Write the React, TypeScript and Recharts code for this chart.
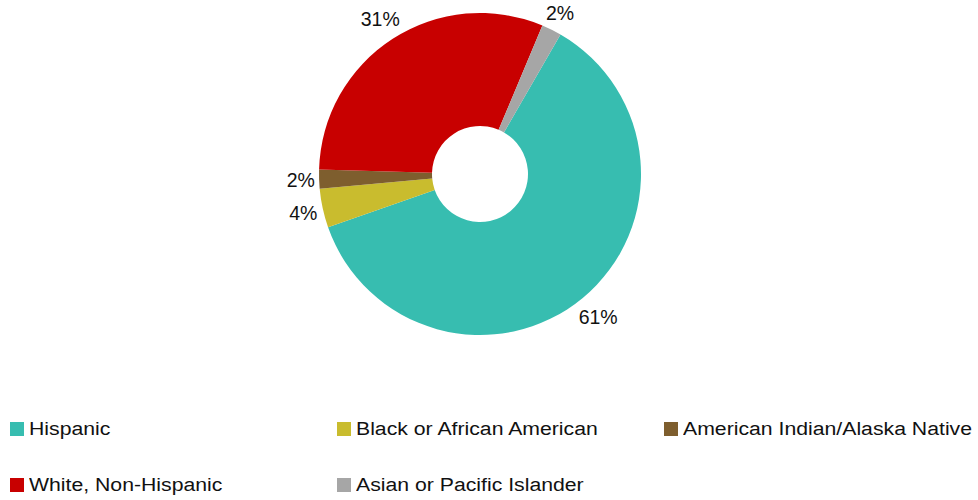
import React from "react";
import { PieChart, Pie, Cell, Legend } from "recharts";

const categories = [
  "Hispanic",
  "Black or African American",
  "American Indian/Alaska Native",
  "White, Non-Hispanic",
  "Asian or Pacific Islander",
];
const values = [61.3, 3.9, 1.9, 30.9, 2.0];
const colors = ["#37BDB0", "#C9BC2E", "#7E5E2E", "#C80000", "#A6A6A6"];

const data = categories.map((name, i) => ({ name, value: values[i] }));
const total = values.reduce((a, b) => a + b, 0);

const RAD = Math.PI / 180;
const LABEL_FONT = 19.5;
const renderLabel = (props: any) => {
  const { cx, cy, midAngle, outerRadius, value } = props;
  const text = `${Math.round((value / total) * 100)}%`;
  const ux = Math.cos(-midAngle * RAD);
  const uy = Math.sin(-midAngle * RAD);
  const w = text.length === 3 ? 39 : 28;
  const h = 20;
  const d = outerRadius + 4 + Math.abs(ux) * (w / 2) + Math.abs(uy) * (h / 2);
  const x = cx + d * ux;
  const y = cy + d * uy;
  return (
    <text
      x={x}
      y={y}
      textAnchor="middle"
      dominantBaseline="central"
      fill="#111"
      fontSize={LABEL_FONT}
      fontFamily="'Liberation Sans', Arial, sans-serif"
    >
      {text}
    </text>
  );
};

const renderLegend = () => (
  <div style={{ position: "relative", width: 978, height: 90 }}>
    {data.map((d, i) => {
      const col = i % 3;
      const row = Math.floor(i / 3);
      return (
        <div
          key={d.name}
          style={{
            position: "absolute",
            left: 10 + col * 327,
            top: 12 + row * 56,
            height: 14,
            display: "flex",
            alignItems: "center",
            whiteSpace: "nowrap",
          }}
        >
          <span
            style={{
              display: "inline-block",
              width: 14,
              height: 14,
              background: colors[i],
              marginRight: 5,
            }}
          />
          <span
            style={{
              display: "inline-block",
              fontFamily: "'Liberation Sans', Arial, sans-serif",
              fontSize: 18.8,
              lineHeight: 1,
              color: "#111",
              transform: "scaleX(1.13)",
              transformOrigin: "left center",
            }}
          >
            {d.name}
          </span>
        </div>
      );
    })}
  </div>
);

export default function App() {
  return (
    <div style={{ position: "absolute", left: 0, top: 0, width: 978, height: 500, background: "#fff" }}>
      <PieChart width={978} height={500} margin={{ top: 0, right: 0, bottom: 0, left: 0 }}>
        <Pie
          data={data}
          dataKey="value"
          nameKey="name"
          cx={480}
          cy={174}
          innerRadius={48}
          outerRadius={161}
          startAngle={60}
          endAngle={-300}
          stroke="none"
          label={renderLabel}
          labelLine={false}
          isAnimationActive={false}
        >
          {data.map((d, i) => (
            <Cell key={d.name} fill={colors[i]} />
          ))}
        </Pie>
        <Legend
          content={renderLegend}
          wrapperStyle={{ position: "absolute", left: 0, top: 410, width: 978, height: 90 }}
        />
      </PieChart>
    </div>
  );
}
